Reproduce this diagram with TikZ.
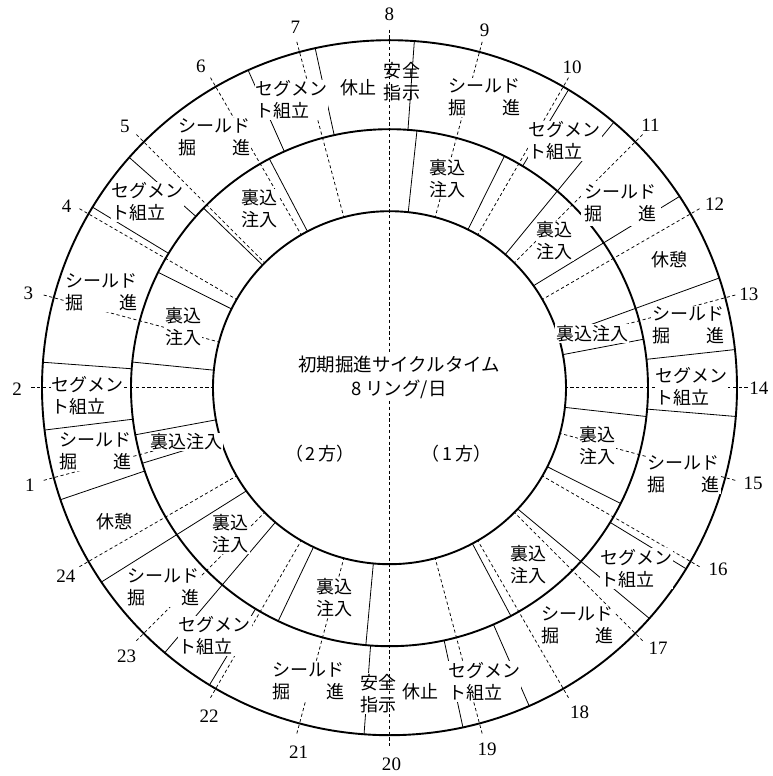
\documentclass[tikz,border=0pt]{standalone}
\usepackage{fontspec}
\setmainfont{Liberation Serif}
\newfontfamily\cjk{Noto Sans CJK JP}
\begin{document}
\begin{tikzpicture}[x=1bp,y=1bp,
  ring/.style={line width=1.9bp},
  seg/.style={line width=0.8bp},
  hourline/.style={line width=0.75bp, dash pattern=on 3.2bp off 2.6bp},
  lab/.style={font=\cjk\fontsize{18bp}{22bp}\selectfont, fill=white, inner sep=0.8bp, align=left},
  labnf/.style={font=\cjk\fontsize{18bp}{22bp}\selectfont, inner sep=0.8bp, align=left},
  ctext/.style={font=\cjk\fontsize{18.5bp}{23.5bp}\selectfont, fill=white, inner sep=3bp, align=center},
  num/.style={font=\fontsize{19bp}{21bp}\selectfont, inner sep=0pt}]
\def\Ra{347.5}\def\Rb{258.5}\def\Rc{176.5}\def\Rd{358}
\useasboundingbox (-389.5,-388.3) rectangle (383.5,387.7);
\fill[white] (-389.5,-388.3) rectangle (383.5,387.7);
% circles
\draw[ring] (0,0) circle[radius=\Ra];
\draw[ring] (0,0) circle[radius=\Rb];
\draw[ring] (0,0) circle[radius=\Rc];
% solid boundaries, outer ring
\foreach \a in {85.9,59,6.3,355.25,328.6,293.7,282.2,265.8,238.8,198.8,187,175.8,148.7,138.5,114,102.35}
  \draw[seg] (\a:\Rb) -- (\a:\Ra);
% solid boundaries, middle ring
\foreach \a in {83.9,63.6,10.8,353.6,333.4,298,264.75,244.5,197,190.5,174.3,153.5,136,117.7}
  \draw[seg] (\a:\Rc) -- (\a:\Rb);
% solid boundaries across both rings
\foreach \a/\b in {49/49.8, 35.3/33.4, 16.9/18.4, 316.6/318.4, 229.7/229.7, 215.8/214}
  \draw[seg] (\a:\Rc) -- (\b:\Ra);
% hour lines
\foreach \h in {1,2,3,4,5,6,7,9,10,11,12,13,14,15,16,17,18,19,21,22,23,24}
  \draw[hourline] ({210-15*\h}:\Rd) -- ({210-15*\h}:\Rc);
% outer ring texts
\node[labnf] (o1) at (12.5,306) {安全\\指示};
\node[lab] (o2) at (-30.8,300.2) {休止};
\node[lab] (o3) at (-97.8,287.7) {セグメン\\ト組立};
\node[lab] (o4) at (-175.3,250.2) {シールド\\掘　　進};
\node[lab] (o5) at (-242,186) {セグメン\\ト組立};
\node[lab] (o6) at (-287.8,95.2) {シールド\\掘　　進};
\node[lab] (o7) at (-302,-7.6) {セグメン\\ト組立};
\node[lab] (o8) at (-293.7,-64.1) {シールド\\掘　　進};
\node[lab] (o9) at (-275.3,-133.6) {休憩};
\node[lab] (o10) at (-226.2,-200) {シールド\\掘　　進};
\node[lab] (o11) at (-174.5,-248.3) {セグメン\\ト組立};
\node[lab] (o12) at (-80.8,-293.3) {シールド\\掘　　進};
\node[lab] (o13) at (-10.8,-305.8) {安全\\指示};
\node[lab] (o14) at (30.8,-304.1) {休止};
\node[lab] (o15) at (94.5,-293.8) {セグメン\\ト組立};
\node[lab] (o16) at (187.7,-237.8) {シールド\\掘　　進};
\node[lab] (o17) at (246.8,-180.8) {セグメン\\ト組立};
\node[lab] (o18) at (294.3,-87) {シールド\\掘　　進};
\node[lab] (o19) at (301.8,1.5) {セグメン\\ト組立};
\node[lab] (o20) at (298.5,62.4) {シールド\\掘　　進};
\node[lab] (o21) at (280.2,127.7) {休憩};
\node[lab, inner sep=4bp] (o22) at (231,184.5) {シールド\\掘　　進};
\node[lab] (o23) at (175.2,246.7) {セグメン\\ト組立};
\node[lab] (o24) at (95.2,290.2) {シールド\\掘　　進};
% middle ring texts
\node[lab] (m1) at (57.5,209.4) {裏込\\注入};
\node[lab] (m2) at (165.2,146.9) {裏込\\注入};
\node[lab] (m3) at (202.5,54.2) {裏込注入};
\node[lab] (m4) at (207.7,-57.8) {裏込\\注入};
\node[lab] (m5) at (138.5,-177.3) {裏込\\注入};
\node[lab] (m6) at (-54.8,-210.1) {裏込\\注入};
\node[lab] (m7) at (-158.7,-146.1) {裏込\\注入};
\node[lab] (m8) at (-202.8,-54.1) {裏込注入};
\node[lab] (m9) at (-206.2,61) {裏込\\注入};
\node[lab] (m10) at (-129.5,178.7) {裏込\\注入};
% 8-20 line
\draw[hourline] (90:\Rd) -- (270:\Rd);
% centre texts
\node[ctext] (c1) at (9.8,10.5) {初期掘進サイクルタイム\\8\,リング/日};
\node[labnf] (c2) at (-69.5,-65.8) {（\,2\,方）};
\node[labnf] (c3) at (67,-65.8) {（\,1\,方）};
% hour numbers
\node[num] (n1) at (-359.5,-97.6) {1};
\node[num] (n2) at (-372.3,-1.8) {2};
\node[num] (n3) at (-361.2,94.7) {3};
\node[num] (n4) at (-322.8,181.7) {4};
\node[num] (n5) at (-264.5,261) {5};
\node[num] (n6) at (-188.5,321.7) {6};
\node[num] (n7) at (-94.2,360.2) {7};
\node[num] (n8) at (0,373.7) {8};
\node[num] (n9) at (95,356.9) {9};
\node[num] (n10) at (182.7,320.2) {10};
\node[num] (n11) at (261,262.7) {11};
\node[num] (n12) at (325.2,183.7) {12};
\node[num] (n13) at (359.3,93.2) {13};
\node[num] (n14) at (369.3,-1) {14};
\node[num] (n15) at (363.5,-95.3) {15};
\node[num] (n16) at (328.5,-181.6) {16};
\node[num] (n17) at (268.5,-260.8) {17};
\node[num] (n18) at (190.2,-325) {18};
\node[num] (n19) at (97.5,-361.6) {19};
\node[num] (n20) at (2,-376.6) {20};
\node[num] (n21) at (-90.8,-365) {21};
\node[num] (n22) at (-180.3,-328.3) {22};
\node[num] (n23) at (-262.8,-268.3) {23};
\node[num] (n24) at (-323.7,-188.3) {24};
\end{tikzpicture}
\end{document}
